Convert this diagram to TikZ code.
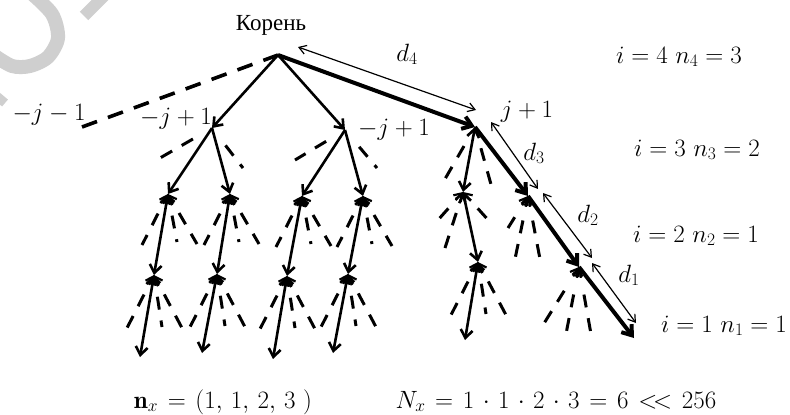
\RequirePackage{fix-cm}
\documentclass[tikz,border=0pt]{standalone}
\usepackage{fontspec}
\newfontfamily\rufont{Liberation Serif}
\usetikzlibrary{arrows.meta,calc}
\definecolor{wmgray}{RGB}{207,207,207}
% #1 node, #2 start distance, #3 tips (1/0), #4 list of dx/dy
\newcommand\fanset[4]{%
  \foreach \dx/\dy [count=\k] in {#4} {
    \coordinate (#1-f\k) at ($(#1)+(\dx,\dy)$);
    \draw[fanline] ($(#1)!#2pt!(#1-f\k)$) -- (#1-f\k);
    \ifnum#3=1 \draw[fantip] ($(#1)!11pt!(#1-f\k)$) -- (#1);\fi
  }}
\begin{document}
\begin{tikzpicture}[x=1pt,y=-1pt,
  >={Straight Barb[length=8pt,width=12pt]},
  edge/.style={line width=2.6pt},
  boldedge/.style={line width=4pt, >={Straight Barb[length=9pt,width=13pt]}},
  dimarrow/.style={line width=1.2pt, >={Straight Barb[length=7pt,width=9pt]}, <->},
  fanline/.style={line width=3pt, dash pattern=on 13pt off 11pt},
  fantip/.style={line width=2.2pt, >={Straight Barb[length=7pt,width=10pt]}, ->},
  rootdash/.style={line width=3.6pt, dash pattern=on 16pt off 11.6pt},
  wmark/.style={draw=wmgray, line width=14pt},
  mlab/.style={anchor=base, inner sep=0pt, font=\fontsize{25}{30}\selectfont},
]
\fill[white] (0,0) rectangle (790,415);
\useasboundingbox (0,0) rectangle (790,415);
% watermark
\draw[wmark] plot[smooth] coordinates {(30,-8) (52,14) (58,38) (48,57) (30,66) (12,66) (-8,54)};
\draw[wmgray, line width=12pt] (84,16) -- (106,-6);
\draw[wmgray, line width=9pt] (-8,92) -- (5,103);
% tree vertices
\coordinate (R) at (278,55);
\coordinate (A) at (212,128);
\coordinate (B) at (345,130);
\coordinate (C) at (475,127);
\coordinate (J) at (82,127);
\coordinate (A1) at (168,194);
\coordinate (A2) at (230,194);
\coordinate (B1) at (302,196);
\coordinate (B2) at (363,196);
\coordinate (C1) at (463,192);
\coordinate (C2) at (528,196);
\coordinate (A1p) at (154,275);
\coordinate (A2p) at (217,274);
\coordinate (B1p) at (287,276);
\coordinate (B2p) at (348,274);
\coordinate (C1p) at (478,262);
\coordinate (C2p) at (579,267);
\coordinate (A1q) at (140,357);
\coordinate (A2q) at (202,353);
\coordinate (B1q) at (273,359);
\coordinate (B2q) at (333,353);
\coordinate (C1q) at (465,340);
\coordinate (C2q) at (634,338);
% dimension arrow ends
\coordinate (d4a) at (298,47);
\coordinate (d4b) at (476,110);
\coordinate (d3a) at (491,122);
\coordinate (d3b) at (538,189);
\coordinate (d2a) at (543,193);
\coordinate (d2b) at (592,258);
\coordinate (d1a) at (592,263);
\coordinate (d1b) at (636,323);
% pruned branches
\draw[rootdash] (J) -- (R);
\fanset{A}{22}{0}{-52/30, 31/40}
\fanset{B}{22}{0}{-50/30, 32/38}
\fanset{C}{22}{0}{-30/52, 17/61}
\fanset{A1}{22}{1}{-26/51, 9/48, 29/50}
\fanset{A2}{22}{1}{-26/51, 9/48, 29/50}
\fanset{B1}{22}{1}{-26/51, 9/48, 29/50}
\fanset{B2}{22}{1}{-26/51, 9/48, 29/50}
\fanset{C1}{22}{1}{-25/28, -18/56, 27/30}
\fanset{C2}{25}{1}{-20/32, -13/63, 12/63}
\fanset{A1p}{22}{1}{-27/53, 8/52, 28/53}
\fanset{A2p}{22}{1}{-27/53, 8/52, 28/53}
\fanset{B1p}{22}{1}{-27/53, 8/52, 28/53}
\fanset{B2p}{22}{1}{-27/53, 8/52, 28/53}
\fanset{C1p}{22}{1}{-27/53, 8/52, 28/53}
\fanset{C2p}{28}{1}{-36/58, -13/67, 12/67}
% explored branches
\draw[edge,->] (R) -- (A);
\draw[edge,->] (R) -- (B);
\draw[edge,->] (A) -- (A1);
\draw[edge,->] (A) -- (A2);
\draw[edge,->] (B) -- (B1);
\draw[edge,->] (B) -- (B2);
\draw[edge,<->] (C) -- (C1);
\draw[edge,<->] (A1) -- (A1p);
\draw[edge,<->] (A1p) -- (A1q);
\draw[edge,<->] (A2) -- (A2p);
\draw[edge,<->] (A2p) -- (A2q);
\draw[edge,<->] (B1) -- (B1p);
\draw[edge,<->] (B1p) -- (B1q);
\draw[edge,<->] (B2) -- (B2p);
\draw[edge,<->] (B2p) -- (B2q);
\draw[edge,<->] (C1) -- (C1p);
\draw[edge,<->] (C1p) -- (C1q);
% optimal path
\draw[boldedge,->] (R) -- (C);
\draw[boldedge,->] (C) -- (C2);
\draw[boldedge,->] (C2) -- (C2p);
\draw[boldedge,->] (C2p) -- (C2q);
% distances
\draw[dimarrow] (d4a) -- (d4b);
\draw[dimarrow] (d3a) -- (d3b);
\draw[dimarrow] (d2a) -- (d2b);
\draw[dimarrow] (d1a) -- (d1b);
% labels
\node[anchor=base, inner sep=0pt, font={\fontsize{23}{27}\rufont}] (rootlab) at (271,30) {Корень};
\node[mlab] (labjm) at (49,120) {$-j-1$};
\node[mlab] (labja) at (176,124) {$-j+1$};
\node[mlab] (labjb) at (394,135) {$-j+1$};
\node[mlab] (labjc) at (527,117) {$j+1$};
\node[mlab] (labd4) at (407,61) {$d_4$};
\node[mlab] (labd3) at (534,160) {$d_3$};
\node[mlab] (labd2) at (588,222) {$d_2$};
\node[mlab] (labd1) at (629,282) {$d_1$};
\node[mlab] (labi4) at (679,63) {$i=4\ n_4=3$};
\node[mlab] (labi3) at (697,156) {$i=3\ n_3=2$};
\node[mlab] (labi2) at (696,242) {$i=2\ n_2=1$};
\node[mlab] (labi1) at (724,332) {$i=1\ n_1=1$};
\node[mlab] (labnx) at (223,408) {$\thickmuskip=7mu\mathbf{n}_x=(1,\,1,\,2,\,3\ )$};
\node[mlab] (labNx) at (556,408) {$\medmuskip=6mu\thickmuskip=7mu N_x=1\cdot1\cdot2\cdot3=6\mathrel{<\!<}256$};
\end{tikzpicture}
\end{document}
